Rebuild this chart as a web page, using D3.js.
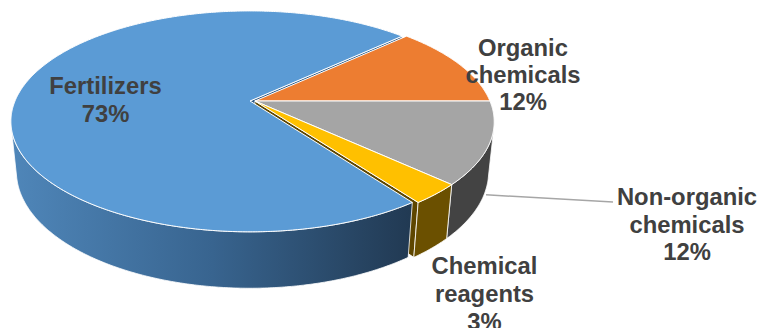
<!DOCTYPE html>
<html>
<head>
<meta charset="utf-8">
<script src="https://cdn.jsdelivr.net/npm/d3@7"></script>
<style>
  html, body { margin: 0; padding: 0; background: #ffffff; }
  svg { display: block; }
  .lbl { font-family: "Liberation Sans", Arial, sans-serif; font-weight: bold; font-size: 23.8px; fill: #404040; }
</style>
</head>
<body>
<svg id="chart" width="760" height="328"></svg>
<script>
// Chemical product use, share of total
const categories = ["Fertilizers", "Organic chemicals", "Non-organic chemicals", "Chemical reagents"];
const shares = [73, 12, 12, 3];
const nameLines = [["Fertilizers"], ["Organic", "chemicals"], ["Non-organic", "chemicals"], ["Chemical", "reagents"]];

// Face colours per slice: top, outer rim, cut wall
const topColors  = ["#5B9BD5", "#ED7D31", "#A5A5A5", "#FFC000"];
const rimColors  = ["url(#rimBlue)", "#9c4f1c", "#434343", "#6B5000"];
const wallColors = ["#2E5A86", "#a65520", "#5a5a5a", "#5E4600"];

// Perspective camera for the 3-D disc (unit radius)
const cam = { cx: 250, cy: 101, f: 1135, dist: 4.83, tilt: 27 * Math.PI / 180, depth: 0.24 };
const st = Math.sin(cam.tilt), ct = Math.cos(cam.tilt);
const camPos = [0, cam.dist * st, cam.dist * ct];

// Slices other than the first are pulled slightly to the right
const explode = 0.021;
const offsetOf = i => (i === 0 ? [0, 0] : [explode, 0]);

function project(X, Y, Z) {
  const yc = Y * ct - Z * st;
  const dz = cam.dist - (Y * st + Z * ct);
  return [cam.cx + cam.f * X / dz, cam.cy - cam.f * yc / dz];
}
// point on a slice at pie angle a (clockwise from 12 o'clock), radius r, height Y
function rim(a, r, Y, off) {
  return project(off[0] + r * Math.sin(a), Y, off[1] - r * Math.cos(a));
}
function samples(a0, a1) {
  const n = Math.max(2, Math.ceil(Math.abs(a1 - a0) / (Math.PI / 360)));
  return d3.range(n + 1).map(k => a0 + (a1 - a0) * k / n);
}

const total = d3.sum(shares);
// rotate so that the Organic / Non-organic boundary points to 3 o'clock
const start = Math.PI / 2 - 2 * Math.PI * (shares[0] + shares[1]) / total;
const pie = d3.pie().sort(null).value(d => d).startAngle(start).endAngle(start + 2 * Math.PI);
const arcs = pie(shares);

const svg = d3.select("#chart");
const defs = svg.append("defs");
const grad = defs.append("linearGradient").attr("id", "rimBlue")
  .attr("gradientUnits", "userSpaceOnUse").attr("x1", 12).attr("x2", 413).attr("y1", 0).attr("y2", 0);
grad.append("stop").attr("offset", 0).attr("stop-color", "#4F86B9");
grad.append("stop").attr("offset", 0.5).attr("stop-color", "#38648F");
grad.append("stop").attr("offset", 1).attr("stop-color", "#213952");

const H = -cam.depth;
const line = d3.line().curve(d3.curveLinear);

const gWalls = svg.append("g");
const gRims = svg.append("g");
const gTops = svg.append("g");

// cut walls, only where the neighbouring slice is separated from this one
arcs.forEach((d, i) => {
  const off = offsetOf(i);
  const n = arcs.length;
  [[d.startAngle, (i + n - 1) % n, -1], [d.endAngle, (i + 1) % n, 1]].forEach(([a, nb, sgn]) => {
    const o2 = offsetOf(nb);
    if (o2[0] === off[0] && o2[1] === off[1]) return;
    const nx = sgn * Math.cos(a), nz = sgn * Math.sin(a);
    const facing = nx * (camPos[0] - off[0]) + nz * (camPos[2] - off[1]);
    if (facing <= 0) return;
    const pts = [rim(a, 0, 0, off), rim(a, 1, 0, off), rim(a, 1, H, off), rim(a, 0, H, off)];
    gWalls.append("path").attr("d", line(pts) + "Z")
      .attr("fill", wallColors[i]).attr("stroke", "#ffffff").attr("stroke-width", 0.8).attr("stroke-linejoin", "round");
  });
});

// outer rims, front-facing part only
arcs.forEach((d, i) => {
  const off = offsetOf(i);
  const vis = samples(d.startAngle, d.endAngle).filter(a => {
    const nx = Math.sin(a), nz = -Math.cos(a);
    return nx * (camPos[0] - off[0] - nx) + nz * (camPos[2] - off[1] - nz) > 0;
  });
  if (vis.length < 2) return;
  const a0 = vis[0], a1 = vis[vis.length - 1];
  const angs = samples(a0, a1);
  const pts = angs.map(a => rim(a, 1, 0, off)).concat(angs.slice().reverse().map(a => rim(a, 1, H, off)));
  gRims.append("path").attr("d", line(pts) + "Z")
    .attr("fill", rimColors[i]).attr("stroke", "#ffffff").attr("stroke-width", 0.8).attr("stroke-linejoin", "round");
});

// top faces
arcs.forEach((d, i) => {
  const off = offsetOf(i);
  const pts = [rim(0, 0, 0, off)].concat(samples(d.startAngle, d.endAngle).map(a => rim(a, 1, 0, off)));
  gTops.append("path").attr("d", line(pts) + "Z")
    .attr("fill", topColors[i]).attr("stroke", "#ffffff").attr("stroke-width", 1).attr("stroke-linejoin", "round");
});

// leader line for the Non-organic label, from the bottom of its rim
const ni = 2;
const midA = (arcs[ni].startAngle + arcs[ni].endAngle) / 2;
const lp = rim(midA, 1, H, offsetOf(ni));
svg.append("path").attr("d", line([[lp[0] + 2, lp[1]], [613, 202]]))
  .attr("fill", "none").attr("stroke", "#A6A6A6").attr("stroke-width", 1.5);

// data labels
const labelAt = [
  { x: 105.5, y: 94, dy: 28 },
  { x: 523, y: 56, dy: 27 },
  { x: 687, y: 205, dy: 27.5 },
  { x: 484.5, y: 274, dy: 28 }
];
arcs.forEach((d, i) => {
  const lines = nameLines[i].concat([Math.round(d.value / total * 100) + "%"]);
  const t = svg.append("text").attr("class", "lbl").attr("text-anchor", "middle");
  lines.forEach((s, k) => {
    t.append("tspan").attr("x", labelAt[i].x).attr("y", labelAt[i].y + k * labelAt[i].dy).text(s);
  });
});
</script>
</body>
</html>
